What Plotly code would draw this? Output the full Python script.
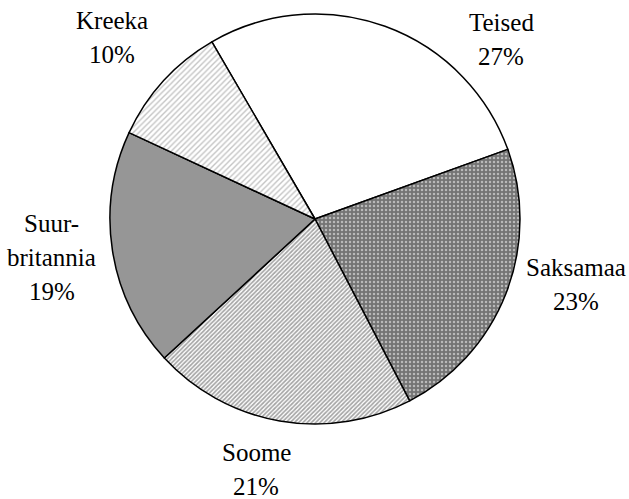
import plotly.graph_objects as go

# Data
labels = ["Teised", "Saksamaa", "Soome", "Suurbritannia", "Kreeka"]
values = [27.9, 22.9, 20.8, 18.8, 9.7]
label_lines = [["Teised", "27%"], ["Saksamaa", "23%"], ["Soome", "21%"],
               ["Suur-", "britannia", "19%"], ["Kreeka", "10%"]]

W, H = 629, 499

# Styles
bg_colors = ["#ffffff", "#747474", "#ffffff", "#969696", "#ffffff"]
fg_colors = ["#000000", "#ffffff", "#4a4a4a", "#000000", "#8a8a8a"]
shapes = ["", ".", "/", "", "/"]
sizes = [4, 4, 3, 4, 4]
solid = [0.4, 0.3, 0.55, 0.4, 0.35]
FONT = "Liberation Serif"

fig = go.Figure(go.Pie(
    labels=labels,
    values=values,
    sort=False,
    direction="clockwise",
    rotation=-30.2,
    textinfo="none",
    hoverinfo="label+percent",
    marker=dict(
        colors=bg_colors,
        line=dict(color="black", width=1.5),
        pattern=dict(shape=shapes, fgcolor=fg_colors, bgcolor=bg_colors,
                     size=sizes, solidity=solid, fillmode="overlay"),
    ),
    domain=dict(x=[110 / W, 520 / W], y=[1 - 424 / H, 1 - 14 / H]),
    showlegend=False,
))

# label block centres (pixels) and line spacing
label_pos = [(501, 22), (576, 267), (256, 452), (52, 223), (112, 20)]
line_gap = 34

annotations = []
for lines, (px, py) in zip(label_lines, label_pos):
    for i, t in enumerate(lines):
        annotations.append(dict(
            text=t, x=px / W, y=1 - (py + i * line_gap) / H,
            xref="paper", yref="paper", xanchor="center", yanchor="middle",
            showarrow=False,
            font=dict(family=FONT, size=25, color="black"),
        ))

fig.update_layout(
    width=W, height=H,
    margin=dict(l=0, r=0, t=0, b=0),
    paper_bgcolor="white",
    plot_bgcolor="white",
    annotations=annotations,
    font=dict(family=FONT),
)

fig.write_html("out.html", config={"displayModeBar": False},
               post_script="document.body.style.margin='0';")
